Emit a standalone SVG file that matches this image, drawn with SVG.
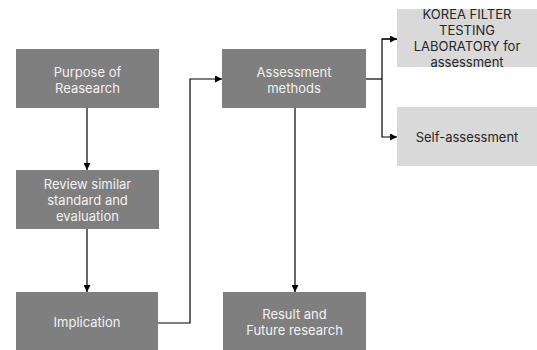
<svg xmlns="http://www.w3.org/2000/svg" width="537" height="350" viewBox="0 0 537 350">
<style>
.dark{fill:#7f7f7f}
.light{fill:#d9d9d9}
.tw{fill:#f2f2f2;font-family:Inter,"Open Sans",sans-serif;font-size:13px;text-anchor:middle}
.tb{fill:#262626;font-family:Inter,"Open Sans",sans-serif;font-size:13px;text-anchor:middle}
.c{fill:none;stroke:#000;stroke-width:1.2}
</style>
<defs>
<marker id="ah" viewBox="0 0 10 10" refX="10" refY="5" markerWidth="7" markerHeight="7" orient="auto" markerUnits="userSpaceOnUse">
<path d="M0,0 L10,5 L0,10 z" fill="#000"/>
</marker>
</defs>
<rect width="537" height="350" fill="#fff"/>
<g id="connectors">
<path class="c" d="M87,108 V170" marker-end="url(#ah)"/>
<path class="c" d="M87,229 V292" marker-end="url(#ah)"/>
<path class="c" d="M158,323 H190 V79 H222" marker-end="url(#ah)"/>
<path class="c" d="M295,108 V292" marker-end="url(#ah)"/>
<path class="c" d="M366,79 H382"/>
<path class="c" d="M397,39 H382 V137 H397" marker-end="url(#ah)"/>
<path class="c" d="M382,39 H397" marker-end="url(#ah)"/>
</g>
<g id="purpose">
<rect class="dark" x="16" y="49" width="143" height="59"/>
<text class="tw" x="87.5" y="76.5">Purpose of</text>
<text class="tw" x="87.5" y="92.5">Reasearch</text>
</g>
<g id="review">
<rect class="dark" x="16" y="170" width="143" height="59"/>
<text class="tw" x="87.5" y="189">Review similar</text>
<text class="tw" x="87.5" y="205">standard and</text>
<text class="tw" x="87.5" y="221">evaluation</text>
</g>
<g id="implication">
<rect class="dark" x="16" y="292" width="142" height="59"/>
<text class="tw" x="87" y="327">Implication</text>
</g>
<g id="assessment">
<rect class="dark" x="222" y="49" width="144" height="59"/>
<text class="tw" x="294" y="76.5">Assessment</text>
<text class="tw" x="294" y="92.5">methods</text>
</g>
<g id="result">
<rect class="dark" x="223" y="292" width="143" height="59"/>
<text class="tw" x="294.5" y="319">Result and</text>
<text class="tw" x="294.5" y="335">Future research</text>
</g>
<g id="korea">
<rect class="light" x="397" y="9" width="140" height="58"/>
<text class="tb" x="467" y="19">KOREA FILTER</text>
<text class="tb" x="467" y="35">TESTING</text>
<text class="tb" x="467" y="51">LABORATORY for</text>
<text class="tb" x="467" y="67">assessment</text>
</g>
<g id="self">
<rect class="light" x="397" y="107" width="140" height="59"/>
<text class="tb" x="467" y="141.5">Self-assessment</text>
</g>
</svg>
